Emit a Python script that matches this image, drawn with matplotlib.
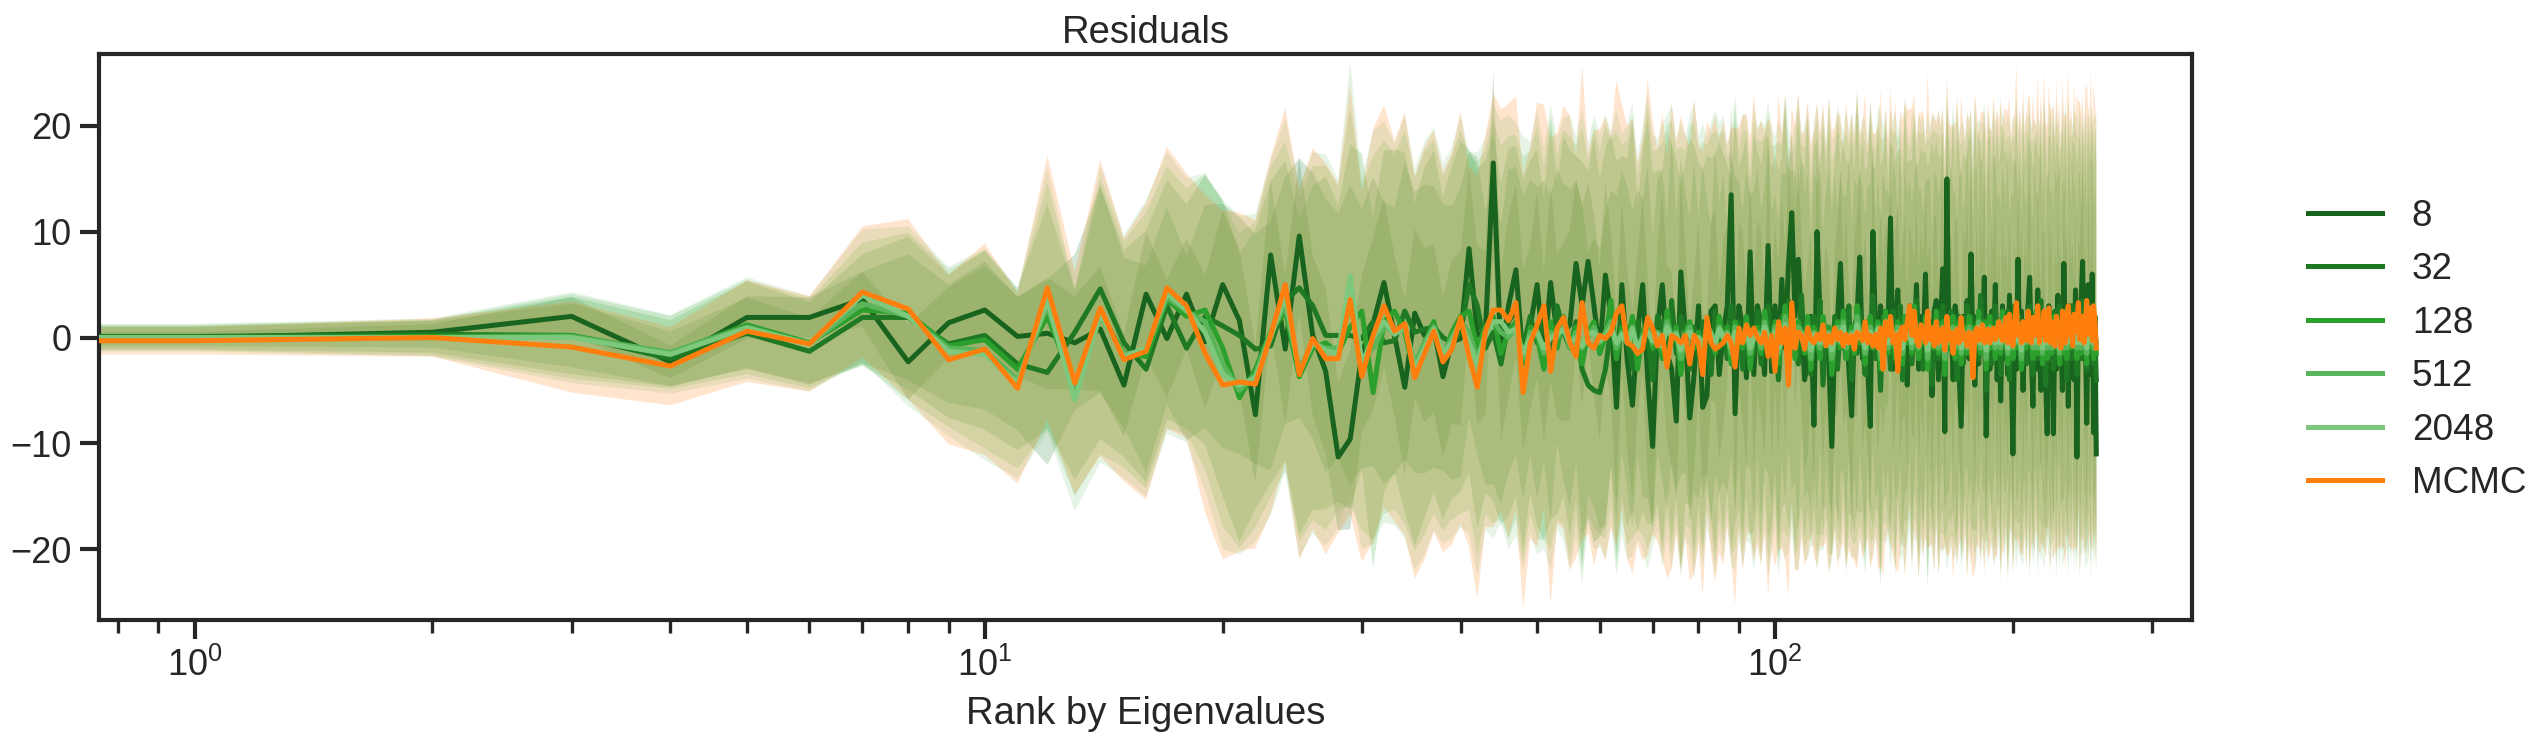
import numpy as np
import matplotlib
matplotlib.use("Agg")
import matplotlib.pyplot as plt

rank = np.arange(256)
labels = ["8", "32", "128", "512", "2048", "MCMC"]

res_8 = [
    0.0, 0.0, 0.5, 2.0, -2.3, 1.9, 1.9, 3.6, -2.3, 1.4, 2.6, 0.1, 0.4, -0.5, 0.8, -4.5,
    4.1, -0.1, 4.1, -0.4, 5.0, 1.6, -7.3, 7.8, -1.1, 9.6, 0.2, -3.2, -11.3, -9.6, -1.5, 1.3,
    5.2, 0.2, -4.7, 2.3, 0.2, 0.9, -3.7, -0.4, -0.1, 8.4, 0.2, 0.5, 16.5, -1.8, 3.0, 6.4,
    -2.1, 1.0, 5.0, -1.8, 5.2, 0.2, 0.5, 1.2, 7.0, 3.0, 7.2, 3.0, -1.5, 5.9, 2.0, -6.6,
    5.0, -2.1, -6.4, 0.5, 5.0, -3.8, -10.3, 0.8, 5.0, -1.5, -3.0, -7.9, 6.2, 0.5, -7.6, -3.5,
    3.0, -6.6, -5.5, 2.5, 3.0, -3.5, 0.5, 3.0, 13.5, -7.2, 3.0, 1.0, -3.8, 8.1, -3.5, 3.0,
    1.2, -3.5, 8.7, -3.2, 3.0, -2.0, 5.5, -1.0, 7.0, 11.8, 2.0, 7.4, 1.5, -4.0, -2.0, 2.0,
    -8.3, 10.0, 2.0, -3.0, 1.0, -2.5, -10.3, 0.5, 2.0, 7.0, -1.0, 2.5, -3.0, -7.4, 1.0, 2.0,
    7.6, -2.0, 1.0, -3.0, -8.4, 10.0, 0.5, -2.0, 3.0, -1.0, 2.5, 1.0, 11.3, -3.0, 1.0, 4.5,
    -2.5, 0.5, 2.0, -4.5, 3.0, 0.0, -1.0, 5.0, -3.0, 2.0, -1.0, 6.0, -2.0, 1.0, -5.5, 2.5,
    3.5, -4.0, 1.0, 6.5, -8.9, 15.0, -1.0, 2.0, -4.0, 3.0, 1.5, -3.5, -8.4, 2.0, 0.5, 3.5,
    -2.0, 7.9, -1.0, -4.5, 2.0, -2.5, 3.0, -1.0, 5.7, -9.3, 1.5, -3.0, 2.5, -1.5, 5.0, -4.0,
    1.0, -6.0, 3.0, -2.0, 0.5, -3.5, 4.0, -2.5, -11.0, 1.0, -3.0, 7.4, -2.0, 2.5, -5.0, 1.5,
    -2.0, 3.0, 5.7, -1.5, -6.5, 2.0, -3.0, 4.5, -1.0, -5.0, 2.0, 0.5, -4.0, -9.1, 3.0, -1.5,
    2.0, -9.1, 1.0, -3.0, 4.0, -2.0, 0.5, -5.0, 7.0, -1.0, 2.5, -6.5, 3.0, -2.0, 1.0, -4.0,
    4.5, -11.3, 2.0, -1.0, 3.5, 7.2, -2.0, 0.5, -8.1, 5.0, 1.0, -3.5, 6.0, -9.0, 2.0, -11.0,
]

res_32 = [
    0.1, 0.1, 0.3, 0.2, -2.0, 0.4, -1.3, 1.9, 1.9, -0.6, 0.2, -2.5, -3.3, 0.5, 4.6, -0.5,
    -3.0, 3.0, -1.0, 2.0, 1.1, 0.2, -1.1, -0.8, 3.5, 4.7, 3.0, 0.2, 0.2, 0.2, -0.1, 1.5,
    -0.5, -0.3, 2.5, 0.5, 0.8, 1.0, 0.0, -0.5, 0.5, 5.0, 3.0, -1.0, 0.5, -2.5, 1.5, 2.5,
    -1.0, 2.0, -0.5, 1.5, -2.0, 3.0, 0.5, -1.0, 1.5, -3.0, -4.5, -5.0, -5.2, -3.0, 1.0, -2.0,
    2.5, 0.0, -3.0, 1.5, -1.0, 0.5, -4.0, 2.0, 1.0, -2.5, 3.5, -1.5, 2.0, 0.5, -3.0, 1.0,
    -2.0, 1.5, 0.0, -3.5, 2.5, -1.0, 1.0, -2.0, 3.0, -0.5, 1.5, -3.0, 2.0, 0.5, -1.5, 2.5,
    -2.5, 1.0, 3.0, -2.0, 0.5, -4.0, 2.0, 0.0, 3.5, -1.5, 1.0, -2.5, 4.0, -1.0, 0.5, -3.5,
    2.0, -1.0, 3.5, -4.5, 1.0, 0.0, -2.5, 2.0, -3.0, 1.5, 0.5, -2.0, 3.0, -4.0, 1.0, -1.5,
    2.5, 0.0, -3.5, 1.5, -1.0, 4.0, -2.0, 0.5, -5.0, 2.0, -0.5, 1.0, -3.0, 2.5, 0.0, -1.5,
    3.0, -4.0, 1.0, -0.5, 2.0, -2.5, 0.5, 3.5, -1.5, 0.0, -3.0, 2.0, -1.0, 1.5, -4.5, 0.5,
    2.0, -2.0, 0.5, 3.0, -3.5, 1.0, -0.5, 2.5, -1.5, 0.0, -4.0, 2.0, 1.0, -2.5, 0.5, 3.0,
    -1.0, 2.0, -3.0, 0.5, 1.5, -2.0, 4.0, -0.5, 1.0, -5.0, 2.0, 0.0, -2.5, 1.5, 3.0, -1.5,
    0.5, -3.5, 2.0, 0.0, -1.0, 2.5, -4.0, 1.0, -2.0, 3.0, 0.5, -1.5, 2.0, -3.0, 1.0, 0.0,
    -2.5, 1.5, 3.0, -1.0, -3.5, 2.0, 0.5, -2.0, 1.0, 3.5, -1.5, 0.0, -4.5, 2.0, 1.0, -2.0,
    0.5, -3.0, 2.5, -1.0, 1.5, 3.0, -2.5, 0.0, -1.0, 2.0, -4.0, 1.0, 0.5, -2.0, 3.0, -1.5,
    1.0, -3.5, 2.0, 0.0, -2.0, 3.5, -1.0, 0.5, -3.0, 2.5, -1.5, 1.0, 3.0, -2.5, 0.5, -4.0,
]

res_128 = [
    0.0, 0.0, 0.1, 0.2, -1.5, 1.2, -0.5, 2.6, 2.3, -0.8, -0.2, -3.0, 2.0, -4.5, 2.3, -1.5,
    -1.8, 3.6, 2.0, 2.6, -1.0, -5.7, -3.0, 0.5, 2.5, -3.7, -1.0, -0.5, -1.5, 1.0, 2.5, -5.2,
    1.5, 2.5, 0.5, -3.5, -0.5, 1.5, -2.0, 0.5, 2.0, 2.5, -1.0, 1.0, 2.0, -1.5, 0.5, 1.5,
    -2.5, 1.0, 0.0, -3.0, 1.5, -1.0, 2.0, -0.5, 1.0, -2.5, 0.5, 1.5, -1.5, 0.0, 3.5, -2.0,
    1.0, -0.5, 2.0, -3.0, 0.5, 1.5, -1.0, 0.0, -2.0, 2.5, -0.5, 1.0, -3.5, 0.5, 1.5, -1.0,
    0.5, -2.0, 1.5, 0.0, -1.5, 2.0, -0.5, 1.0, -2.5, 1.5, 0.0, -1.0, 2.0, -3.0, 0.5, 1.0,
    -1.5, 2.5, 0.0, -1.0, 1.5, -2.5, 0.5, 3.0, -1.0, 0.0, -2.0, 1.5, 0.5, -1.5, 2.0, -3.0,
    1.0, 0.0, -2.0, 2.0, -0.5, 1.0, -3.5, 0.5, 1.5, -1.0, 2.5, -2.0, 0.0, 1.0, -1.5, 3.0,
    -0.5, 1.0, -2.5, 0.5, 2.0, -1.0, 0.0, 1.5, -3.0, 0.5, 2.5, -1.5, 0.0, 1.0, -2.0, 1.5,
    0.0, -2.5, 2.0, -0.5, 1.0, -1.5, 3.0, 0.0, -2.0, 1.0, -0.5, 2.0, -3.0, 0.5, 1.0, -1.0,
    2.5, -1.5, 0.0, 1.5, -3.5, 1.0, 0.5, -1.0, 2.0, -2.0, 0.5, 1.5, -2.5, 0.0, 1.0, -1.5,
    2.0, 0.5, -2.0, 1.0, -1.0, 2.5, -1.5, 0.0, 1.5, -3.0, 0.5, 2.0, -1.0, 0.5, -2.0, 1.5,
    0.0, -1.5, 2.5, -0.5, 1.0, -2.5, 0.5, 1.5, -2.0, 0.0, 2.0, -1.0, 0.5, -3.0, 1.5, 0.0,
    -1.0, 2.0, -0.5, 1.0, -2.0, 0.5, 2.5, -1.5, 0.0, 1.0, -2.5, 1.5, -0.5, -2.0, 1.0, 0.5,
    -1.5, 2.0, 0.0, -1.0, 1.5, -2.5, 0.5, 1.0, -1.5, 2.5, -2.0, 0.0, 1.0, -1.0, 2.0, -0.5,
    0.5, -2.0, 1.5, 0.0, -1.5, 2.0, -1.0, 0.5, -2.5, 1.5, 0.0, -1.0, 2.5, -2.0, 1.0, -1.5,
]

res_512 = [
    0.0, 0.0, 0.0, 0.1, -1.4, 1.0, -0.6, 3.2, 2.0, -1.0, -1.2, -4.0, 3.0, -5.2, 2.0, -1.6,
    -1.2, 3.8, 2.5, 1.5, -2.5, -5.0, -3.5, 0.5, 3.0, -3.0, -0.5, -1.0, -1.0, 3.0, -2.0, -1.0,
    1.0, 0.5, 1.0, -2.5, -0.5, 1.0, -1.5, 0.0, 1.5, 0.5, -2.0, 0.5, 1.5, 0.5, 0.0, 1.0,
    -2.0, 0.5, 0.5, -1.5, 0.5, 0.0, 1.0, -1.0, 0.5, -1.0, 0.0, 1.0, -0.5, 0.5, 1.5, -1.0,
    0.5, -0.5, 1.0, -1.5, 0.0, 1.0, -0.5, 0.5, -1.0, 1.5, 0.0, 0.5, -2.0, 0.0, 1.0, -0.5,
    0.0, -1.0, 1.0, 0.5, -1.0, 1.0, 0.0, 0.5, -1.5, 1.0, 0.0, -0.5, 1.0, -1.5, 0.0, 0.5,
    -1.0, 1.5, 0.0, -0.5, 1.0, -1.5, 0.0, 2.0, -0.5, 0.0, -1.0, 1.0, 0.5, -1.0, 1.0, -2.0,
    0.5, 0.0, -1.0, 1.0, 0.0, 0.5, -2.0, 0.0, 1.0, -0.5, 1.5, -1.0, 0.0, 0.5, -1.0, 2.0,
    0.0, 0.5, -1.5, 0.0, 1.0, -0.5, 0.0, 1.0, -2.0, 0.5, 1.5, -1.0, 0.0, 0.5, -1.0, 1.0,
    0.0, -1.5, 1.0, 0.0, 0.5, -1.0, 2.0, 0.0, -1.0, 0.5, 0.0, 1.0, -2.0, 0.5, 0.5, -0.5,
    1.5, -1.0, 0.0, 1.0, -2.0, 0.5, 0.0, -0.5, 1.0, -1.0, 0.5, 1.0, -1.5, 0.0, 0.5, -1.0,
    1.0, 0.0, -1.0, 0.5, -0.5, 1.5, -1.0, 0.0, 1.0, -2.0, 0.0, 1.0, -0.5, 0.5, -1.0, 1.0,
    0.0, -1.0, 1.5, 0.0, 0.5, -1.5, 0.0, 1.0, -1.0, 0.0, 1.0, -0.5, 0.5, -2.0, 1.0, 0.0,
    -0.5, 1.0, 0.0, 0.5, -1.0, 0.0, 1.5, -1.0, 0.0, 0.5, -1.5, 1.0, 0.0, -1.0, 0.5, 0.5,
    -1.0, 1.0, 0.0, -0.5, 1.0, -1.5, 0.0, 0.5, -1.0, 1.5, -1.0, 0.0, 0.5, -0.5, 1.0, 0.0,
    0.5, -1.0, 1.0, 0.0, -1.0, 1.0, -0.5, 0.5, -1.5, 1.0, 0.0, -0.5, 1.5, -1.0, 0.5, -0.5,
]

res_2048 = [
    0.0, 0.0, 0.0, 0.0, -1.6, 0.9, -0.6, 4.0, 2.0, -1.3, -1.6, -4.3, 3.5, -5.9, 2.2, -1.8,
    -1.0, 4.2, 2.6, 0.5, -3.5, -4.5, -3.8, 0.0, 4.0, -3.3, -0.5, -1.2, -1.5, 5.8, -2.5, 0.0,
    1.5, 0.3, 1.0, -3.0, -1.0, 0.8, -1.5, -0.5, 1.5, -0.5, -2.5, 0.3, 1.5, 1.5, 0.5, 0.8,
    -1.5, 0.0, 0.5, -1.0, 0.0, 0.3, 0.8, -0.5, 0.0, -0.8, 0.3, 0.5, -0.3, 0.0, 1.0, -0.5,
    0.3, -0.5, 0.8, -1.0, 0.0, 0.5, -0.3, 0.3, -0.8, 1.0, 0.0, 0.3, -1.2, 0.0, 0.5, -0.3,
    0.0, -0.8, 0.5, 0.3, -0.5, 0.8, 0.0, 0.3, -1.0, 0.5, 0.0, -0.3, 0.8, -1.0, 0.0, 0.3,
    -0.5, 1.0, 0.0, -0.3, 0.5, -1.0, 0.0, 1.2, -0.3, 0.0, -0.8, 0.5, 0.3, -0.5, 0.5, -1.2,
    0.3, 0.0, -0.5, 0.8, 0.0, 0.3, -1.2, 0.0, 0.5, -0.3, 1.0, -0.5, 0.0, 0.3, -0.8, 1.2,
    0.0, 0.3, -1.0, 0.0, 0.5, -0.3, 0.0, 0.8, -1.2, 0.3, 1.0, -0.5, 0.0, 0.3, -0.5, 0.5,
    0.0, -1.0, 0.5, 0.0, 0.3, -0.5, 1.2, 0.0, -0.8, 0.3, 0.0, 0.5, -1.2, 0.3, 0.3, -0.3,
    1.0, -0.5, 0.0, 0.5, -1.2, 0.3, 0.0, -0.3, 0.5, -0.5, 0.3, 0.5, -1.0, 0.0, 0.3, -0.5,
    0.5, 0.0, -0.5, 0.3, -0.3, 1.0, -0.5, 0.0, 0.5, -1.2, 0.0, 0.5, -0.3, 0.3, -0.5, 0.5,
    0.0, -0.5, 1.0, 0.0, 0.3, -1.0, 0.0, 0.5, -0.5, 0.0, 0.5, -0.3, 0.3, -1.2, 0.5, 0.0,
    -0.3, 0.5, 0.0, 0.3, -0.5, 0.0, 1.0, -0.5, 0.0, 0.3, -1.0, 0.5, 0.0, -0.5, 0.3, 0.3,
    -0.5, 0.5, 0.0, -0.3, 0.5, -1.0, 0.0, 0.3, -0.5, 1.0, -0.5, 0.0, 0.3, -0.3, 0.5, 0.0,
    0.3, -0.5, 0.5, 0.0, -0.5, 0.5, -0.3, 0.3, -1.0, 0.5, 0.0, -0.3, 1.0, -0.5, 0.3, -0.3,
]

res_mcmc = [
    -0.3, -0.3, 0.0, -0.9, -2.7, 0.6, -0.6, 4.3, 2.7, -2.1, -1.1, -4.8, 4.7, -4.3, 2.8, -2.1,
    -1.3, 4.7, 3.0, -1.5, -4.5, -4.2, -4.4, 0.2, 5.0, -3.5, -0.1, -2.0, -2.0, 3.6, -3.7, 0.2,
    3.0, 0.6, 1.3, -3.8, -1.5, 0.6, -2.3, -1.1, 1.9, -1.8, -4.7, 0.6, 2.6, 2.6, 1.6, 3.3,
    -5.2, -0.5, 1.2, 3.0, -3.2, 0.9, 1.9, -0.5, -1.8, 3.3, -0.5, -1.0, 0.2, -0.1, 0.5, 2.3,
    3.0, -0.5, -0.8, -1.5, -1.1, 1.9, 0.9, -0.8, 0.2, -2.8, 0.2, -0.1, -0.5, 0.2, -2.5, 0.2,
    -0.5, -3.5, 1.9, -0.5, -1.1, -0.8, -0.5, 0.2, -0.5, -2.8, 0.9, -0.5, 1.2, 0.2, 0.9, 0.0,
    -0.5, 0.5, -1.8, 0.2, -3.2, 1.5, -0.5, 0.9, -4.5, 3.3, -1.0, 0.5, 0.2, -1.1, 0.9, -0.2,
    -0.5, 0.3, -0.2, 1.2, -0.8, 0.2, -0.5, 0.9, -0.2, 0.5, -0.8, 0.3, -0.5, 0.2, -1.1, 0.5,
    0.2, -0.3, 1.5, -0.5, 0.2, -0.8, 0.3, -1.0, 0.9, -3.0, 1.5, 0.2, 2.0, -0.5, 0.3, -3.2,
    0.5, 1.0, -0.2, 1.5, 3.0, 0.2, 2.5, -0.3, -0.8, 1.2, 0.5, -0.5, 2.5, -0.2, 0.9, -0.8,
    1.5, -0.5, 0.2, 0.9, -1.2, 2.0, -0.2, 0.5, -1.5, 0.3, 0.8, -0.5, 1.9, -0.2, 0.3, -0.8,
    0.5, 0.2, -3.8, 0.5, 0.9, -0.3, 0.3, 1.2, -0.5, 0.2, 0.8, -0.5, 0.3, 0.9, -0.2, 0.5,
    1.5, 0.2, -0.3, 0.9, 1.9, -0.5, 2.2, 0.3, -0.8, 1.2, 3.3, 0.2, 0.8, -0.5, 1.5, 0.5,
    -0.3, 2.5, 0.5, -0.5, 1.9, 0.2, 0.9, 3.0, -0.5, 1.5, 0.3, 2.5, -0.3, 1.0, 2.8, -0.5,
    1.5, 0.5, -0.8, 2.0, 0.3, 1.2, -1.0, 2.5, 0.5, -0.5, 1.8, 3.0, 0.2, 1.0, -0.8, 2.2,
    0.5, 1.5, 3.3, -0.2, 1.0, 2.0, -0.5, 1.5, 3.5, 0.3, 1.2, 2.8, -0.3, 3.0, 1.5, -1.0,
]

# half-width of the widest uncertainty band at each rank
spread = [
    1.3, 1.3, 1.8, 4.3, 3.7, 4.8, 4.5, 6.2, 8.5, 8.0, 10.0, 9.0, 12.5, 10.5, 14.0, 11.5,
    14.0, 13.3, 12.5, 15.0, 16.5, 16.0, 15.5, 16.8, 16.7, 17.5, 18.0, 18.5, 16.5, 20.3, 17.5, 19.5,
    19.0, 18.0, 20.0, 19.0, 19.5, 19.0, 18.0, 18.5, 19.5, 18.0, 20.0, 18.5, 20.5, 19.0, 20.5, 19.5,
    20.5, 18.5, 21.0, 19.0, 22.0, 18.5, 20.0, 21.5, 19.0, 22.5, 18.0, 20.5, 19.5, 21.0, 18.5, 22.0,
    19.0, 20.5, 21.5, 18.0, 20.0, 22.5, 19.5, 18.5, 21.0, 20.0, 22.0, 18.5, 21.5, 19.0, 20.5, 22.5,
    19.0, 21.0, 18.5, 20.0, 22.0, 19.5, 21.0, 18.0, 20.5, 22.5, 19.0, 21.5, 20.0, 18.5, 22.0, 19.5,
    21.0, 19.0, 22.5, 20.0, 18.5, 21.5, 19.5, 22.0, 20.0, 18.5, 21.0, 22.5, 19.0, 20.5, 21.5, 18.5,
    20.0, 22.0, 19.5, 21.0, 18.5, 22.5, 20.0, 19.0, 21.5, 20.5, 18.5, 22.0, 19.5, 21.0, 20.0, 22.5,
    19.0, 20.5, 21.5, 18.5, 22.0, 20.0, 19.0, 21.0, 22.5, 19.5, 20.5, 18.5, 21.5, 20.0, 22.0, 19.0,
    21.0, 19.5, 22.5, 20.0, 18.5, 21.5, 20.5, 19.0, 22.0, 20.0, 21.0, 18.5, 22.5, 19.5, 20.5, 21.5,
    19.0, 22.0, 20.0, 21.0, 18.5, 22.5, 20.5, 19.5, 21.5, 20.0, 22.0, 19.0, 21.0, 20.5, 18.5, 22.0,
    20.0, 21.5, 19.0, 22.5, 20.5, 19.5, 21.0, 20.0, 22.0, 18.5, 21.5, 20.0, 19.5, 22.0, 20.5, 21.0,
    19.0, 22.5, 20.0, 21.0, 19.5, 22.0, 20.5, 18.5, 21.5, 20.0, 22.5, 19.5, 21.0, 20.0, 22.0, 19.0,
    21.5, 20.0, 22.5, 19.5, 21.0, 20.5, 19.0, 22.0, 20.0, 21.5, 19.5, 22.5, 20.5, 19.0, 21.0, 22.0,
    20.0, 21.5, 19.5, 22.5, 20.0, 21.0, 19.0, 22.0, 20.5, 21.5, 19.5, 22.5, 20.0, 21.0, 19.5, 22.0,
    20.5, 21.5, 19.0, 22.5, 20.0, 21.0, 19.5, 22.0, 20.5, 21.5, 19.5, 22.5, 20.0, 21.0, 20.5, 21.5,
]
band_scale = [0.42, 0.70, 0.85, 0.93, 1.0, 1.0]

colors = ["#18641e", "#1f7823", "#2ca02c", "#5ab45a", "#7dc87d", "#ff7f0e"]
series = [res_8, res_32, res_128, res_512, res_2048, res_mcmc]

DPI = 100
ink = "#262626"
plt.rcParams.update({
    "font.family": ["Liberation Sans", "DejaVu Sans"],
    "text.color": ink,
    "axes.labelcolor": ink,
    "axes.edgecolor": ink,
    "xtick.color": ink,
    "ytick.color": ink,
    "axes.linewidth": 3.0,
    "xtick.direction": "out",
    "ytick.direction": "out",
})

fig = plt.figure(figsize=(2543 / DPI, 751 / DPI), dpi=DPI)
ax = fig.add_axes([99 / 2543, 1 - 620 / 751, (2192 - 99) / 2543, (620 - 54) / 751])

sd = np.array(spread)
for vals, col, k in zip(series, colors, band_scale):
    m = np.array(vals)
    ax.fill_between(rank, m - k * sd, m + k * sd, color=col, alpha=0.2,
                    linewidth=0, zorder=1)
for vals, col, lab in zip(series, colors, labels):
    ax.plot(rank, vals, color=col, lw=3.6, label=lab, zorder=3)

ax.set_xscale("log")
ax.set_xlim(0.757, 337)
ax.set_ylim(-26.7, 26.8)
ax.set_yticks([-20, -10, 0, 10, 20])

ax.tick_params(axis="both", which="major", labelsize=26, length=14,
               width=3.0, pad=6)
ax.tick_params(axis="x", which="minor", length=9.5, width=2.4)

ax.set_title("Residuals", fontsize=27.5, pad=8)
ax.set_xlabel("Rank by Eigenvalues", fontsize=27.5, labelpad=9)

leg = ax.legend(loc="center left", bbox_to_anchor=(1.0397, 0.477), frameon=False,
                fontsize=26.6)
for line in leg.get_lines():
    line.set_linewidth(3.6)

fig.savefig("out.png", dpi=DPI)
